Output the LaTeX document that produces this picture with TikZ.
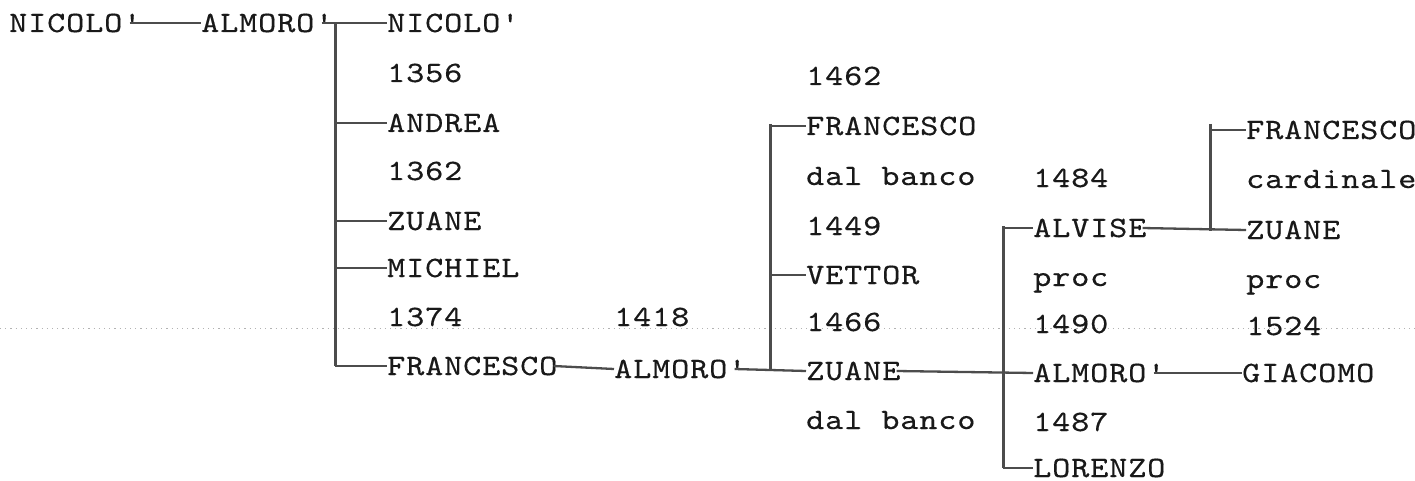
\documentclass[tikz,border=0pt]{standalone}
\usepackage{fontspec}
\setmonofont{lmmono10-regular.otf}[FakeStretch=1.17,FakeBold=0.35,LetterSpace=3]
\begin{document}
\begin{tikzpicture}[x=1pt,y=-1pt,
  person/.style={anchor=west,inner sep=0pt,text height=18pt,text depth=0pt,
    font=\ttfamily\fontsize{29.5pt}{32pt}\selectfont,text=black!90},
  link/.style={draw=black!70,line width=2.3pt},
  bar/.style={draw=black!70,line width=3pt},
  scanline/.style={draw=black!30,line width=0.9pt,dash pattern=on 1.2pt off 4pt}]
\useasboundingbox (0,0) rectangle (1415,481);
\fill[white] (0,0) rectangle (1415,481);
\draw[scanline] (0,328) -- (1415,328);
% generation 0 and 1
\node[person] (n0) at (9,23) {NICOLO'};
\node[person] (a1) at (201,23) {ALMORO'};
% generation 2
\node[person] (c2a) at (387,23) {NICOLO'};
\node[person] (y1356) at (387,73) {1356};
\node[person] (c2b) at (387,123) {ANDREA};
\node[person] (y1362) at (387,171) {1362};
\node[person] (c2c) at (387,221) {ZUANE};
\node[person] (c2d) at (387,268) {MICHIEL};
\node[person] (y1374) at (387,317) {1374};
\node[person] (c2e) at (387,366) {FRANCESCO};
% generation 3
\node[person] (y1418) at (614,317) {1418};
\node[person] (a3) at (614,369) {ALMORO'};
% generation 4
\node[person] (y1462) at (806,76) {1462};
\node[person] (c4a) at (806,126) {FRANCESCO};
\node[person] (c4a2) at (806,176) {dal banco};
\node[person] (y1449) at (806,226) {1449};
\node[person] (c4b) at (806,275) {VETTOR};
\node[person] (y1466) at (806,322) {1466};
\node[person] (c4c) at (806,371) {ZUANE};
\node[person] (c4c2) at (806,420) {dal banco};
% generation 5
\node[person] (y1484) at (1033,178) {1484};
\node[person] (c5a) at (1033,228) {ALVISE};
\node[person] (c5a2) at (1033,277) {proc};
\node[person] (y1490) at (1033,324) {1490};
\node[person] (c5b) at (1033,373) {ALMORO'};
\node[person] (y1487) at (1033,422) {1487};
\node[person] (c5c) at (1033,468) {LORENZO};
% generation 6
\node[person] (c6a) at (1246,130) {FRANCESCO};
\node[person] (c6a2) at (1246,179) {cardinale};
\node[person] (c6b) at (1246,230) {ZUANE};
\node[person] (c6b2) at (1246,279) {proc};
\node[person] (y1524) at (1246,326) {1524};
\node[person] (c6c) at (1242,373) {GIACOMO};
% junctions
\coordinate (j1t) at (335,23);
\coordinate (j1b) at (335,366);
\coordinate (j2t) at (770,124);
\coordinate (j2b) at (770,371);
\coordinate (j3t) at (1003,226);
\coordinate (j3b) at (1003,468);
\coordinate (j4t) at (1210,124);
\coordinate (j4b) at (1210,231);
% connectors
\draw[link] ([xshift=-12pt]n0.east) -- (a1.west);
\draw[link] ([xshift=-12pt]a1.east) -- (c2a.west);
\draw[bar] (j1t) -- (j1b);
\draw[link] (c2b.west -| j1t) -- (c2b.west);
\draw[link] (c2c.west -| j1t) -- (c2c.west);
\draw[link] (c2d.west -| j1t) -- (c2d.west);
\draw[link] (j1b) -- (c2e.west);
\draw[link] ([xshift=-4pt]c2e.east) -- (a3.west);
\draw[link] ([xshift=-12pt]a3.east) -- (c4c.west);
\draw[bar] (j2t) -- (j2b);
\draw[link] (c4a.west -| j2t) -- (c4a.west);
\draw[link] (c4b.west -| j2t) -- (c4b.west);
\draw[link] ([xshift=-4pt]c4c.east) -- (c5b.west);
\draw[bar] (j3t) -- (j3b);
\draw[link] (c5a.west -| j3t) -- (c5a.west);
\draw[link] (j3b) -- (c5c.west);
\draw[link] ([xshift=-4pt]c5a.east) -- (c6b.west);
\draw[bar] (j4t) -- (j4b);
\draw[link] (c6a.west -| j4t) -- (c6a.west);
\draw[link] ([xshift=-12pt]c5b.east) -- (c6c.west);
\end{tikzpicture}
\end{document}
